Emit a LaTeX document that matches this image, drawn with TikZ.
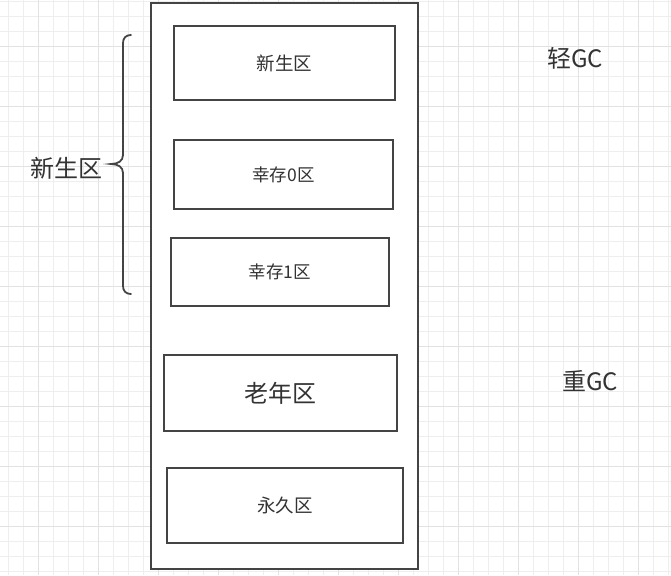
\documentclass[tikz,border=0pt]{standalone}
\usepackage{fontspec}
\setmainfont{Noto Sans CJK SC}
\usepackage{xcolor}
\usepackage{tikz}
\usetikzlibrary{calc,positioning}
\definecolor{linegray}{HTML}{444444}
\definecolor{textgray}{HTML}{333333}
\definecolor{gridminor}{HTML}{EEEEEE}
\definecolor{gridmajor}{HTML}{E2E2E2}
\tikzset{
  heap/.style={draw=linegray,line width=1.8pt,fill=white},
  region/.style={draw=linegray,line width=1.8pt,fill=white,text=textgray,
                 inner sep=0pt,font=\fontsize{18.5}{22}\selectfont},
  caption/.style={text=textgray,inner sep=0pt,font=\fontsize{24}{28}\selectfont},
  brace/.style={draw=linegray,line width=1.8pt,line cap=round},
}

\begin{document}
\begin{tikzpicture}[x=1pt,y=-1pt]
  \useasboundingbox (0,0) rectangle (671,575);
  \fill[white] (0,0) rectangle (671,575);
  % background grid
  \foreach \i in {0,...,44}
    \draw[gridminor,line width=0.8pt] (8.3+15*\i,0) -- (8.3+15*\i,575);
  \foreach \j in {0,...,38}
    \draw[gridminor,line width=0.8pt] (0,1.5+15*\j) -- (671,1.5+15*\j);
  \foreach \i in {0,...,10}
    \draw[gridmajor,line width=0.9pt] (38.3+60*\i,0) -- (38.3+60*\i,575);
  \foreach \j in {0,...,9}
    \draw[gridmajor,line width=0.9pt] (0,46.5+60*\j) -- (671,46.5+60*\j);

  % heap outline and its regions
  \draw[heap] (151,3) rectangle (418,569);
  \node[region,minimum width=221pt,minimum height=74pt] (eden) at (284.5,63) {新生区};
  \node[region,minimum width=219pt,minimum height=69pt,font=\fontsize{17.5}{21}\selectfont]
    (surv0) at (283.5,174.5) {幸存0区};
  \node[region,minimum width=218pt,minimum height=68pt,font=\fontsize{17.5}{21}\selectfont]
    (surv1) at (280,272) {幸存1区};
  \node[region,minimum width=233pt,minimum height=76pt,font=\fontsize{24}{28}\selectfont]
    (old) at (280.5,393) {老年区};
  \node[region,minimum width=236pt,minimum height=75pt] (perm) at (285,505.5) {永久区};

  % young generation brace
  \coordinate (btop) at (131,35);
  \coordinate (btip) at (111,164);
  \coordinate (bbot) at (131,294);
  \draw[brace] (btop) .. controls (126,35) and (123,38) .. (123,43)
    -- (123,155) .. controls (123,161) and (118,164) .. (btip)
    .. controls (118,164) and (123,167) .. (123,173)
    -- (123,286) .. controls (123,291) and (126,294) .. (bbot);
  \node[caption] (young) at (66,168) {新生区};

  \node[caption] (minor) at (575,58) {轻GC};
  \node[caption] (major) at (590,381) {重GC};
\end{tikzpicture}
\end{document}
